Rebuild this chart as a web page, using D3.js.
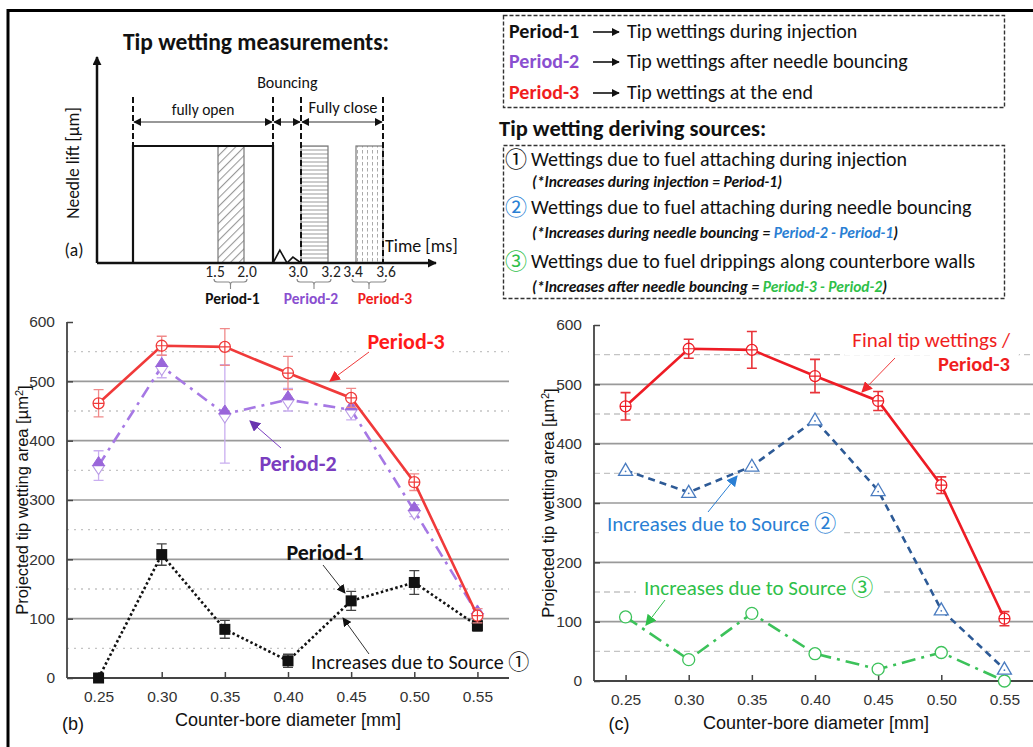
<!DOCTYPE html>
<html>
<head>
<meta charset="utf-8">
<script src="https://cdn.jsdelivr.net/npm/d3@7"></script>
<style>
  body { margin: 0; background: #fff; }
  svg { display: block; }
</style>
</head>
<body>
<svg id="fig" width="1033" height="747"></svg>
<script>
// ---------------- data ----------------
const diameters = [0.25, 0.30, 0.35, 0.40, 0.45, 0.50, 0.55];
const diameterLabels = ["0.25", "0.30", "0.35", "0.40", "0.45", "0.50", "0.55"];
const areaTicks = [0, 100, 200, 300, 400, 500, 600];
const areaMajorGrid = [100, 200, 300, 400, 500];
const areaMinorGrid = [50, 150, 250, 350, 450, 550];

// projected tip wetting area [µm²] per counter-bore diameter
const period1 = [0, 208, 82, 29, 130, 161, 88];
const period1Err = [3, 18, 15, 11, 16, 20, 9];
const period2 = [358, 525, 445, 469, 452, 282, 108];
const period2Err = [25, 19, 83, 19, 17, 10, 9];
const period3 = [463, 560, 558, 514, 472, 330, 105];
const period3Err = [23, 16, 31, 28, 16, 14, 12];
const source2 = [355, 318, 362, 440, 321, 120, 20];
const source3 = [108, 36, 114, 46, 20, 48, 0];

// schematic of needle lift (panel a)
const timeTicks = [1.5, 2.0, 3.0, 3.2, 3.4, 3.6];
const timeTickLabels = ["1.5", "2.0", "3.0", "3.2", "3.4", "3.6"];
const periodNames = ["Period-1", "Period-2", "Period-3"];
const periodStart = [1.5, 3.0, 3.4];
const periodEnd = [2.0, 3.2, 3.6];
const liftTime = [0.3, 0.3, 2.55, 2.55];
const liftValue = [0, 1, 1, 0];
const bounceTime = [2.55, 2.66, 2.775, 2.87, 3.0];
const bounceValue = [0, 0.11, 0, 0.05, 0];
const phaseEdges = [0.3, 2.55, 3.0, 3.6];
const phaseNames = ["fully open", "", "Fully close"];

// ---------------- setup ----------------
const CAL = "Carlito, Calibri, Lato, 'Noto Sans CJK JP', sans-serif";
const ARIAL = "'Liberation Sans', Arial, sans-serif";
const CIRC = "'Noto Sans CJK JP', 'DejaVu Sans', sans-serif";
const RED = "#f0282d", BLUE = "#2a7fd4", GREEN = "#2fbf4a", NAVY = "#2d5a96";

const svg = d3.select("#fig");
const defs = svg.append("defs");

function arrowHead(id, color, size) {
  defs.append("marker")
    .attr("id", id).attr("viewBox", "0 0 10 10")
    .attr("refX", 9).attr("refY", 5)
    .attr("markerWidth", size).attr("markerHeight", size)
    .attr("markerUnits", "userSpaceOnUse")
    .attr("orient", "auto-start-reverse")
    .append("path").attr("d", "M0,0 L10,5 L0,10 z").attr("fill", color);
}
arrowHead("ah-black", "#111", 9);
arrowHead("ah-black-s", "#111", 8);
arrowHead("ah-red", RED, 11);
arrowHead("ah-purple", "#6a35b0", 11);
arrowHead("ah-blue", BLUE, 11);
arrowHead("ah-green", GREEN, 11);

// hatch patterns for the schematic
const pDiag = defs.append("pattern").attr("id", "hatch-diag")
  .attr("patternUnits", "userSpaceOnUse").attr("width", 6).attr("height", 6)
  .attr("patternTransform", "rotate(45)");
pDiag.append("rect").attr("width", 6).attr("height", 6).attr("fill", "#fff");
pDiag.append("line").attr("x1", 0).attr("y1", 0).attr("x2", 0).attr("y2", 6)
  .attr("stroke", "#9a9a9a").attr("stroke-width", 2.2);
const pHor = defs.append("pattern").attr("id", "hatch-hor")
  .attr("patternUnits", "userSpaceOnUse").attr("width", 6).attr("height", 4);
pHor.append("rect").attr("width", 6).attr("height", 4).attr("fill", "#fff");
pHor.append("line").attr("x1", 0).attr("y1", 2).attr("x2", 6).attr("y2", 2)
  .attr("stroke", "#9a9a9a").attr("stroke-width", 1);
const pVer = defs.append("pattern").attr("id", "hatch-ver")
  .attr("patternUnits", "userSpaceOnUse").attr("width", 5).attr("height", 6);
pVer.append("rect").attr("width", 5).attr("height", 6).attr("fill", "#fff");
pVer.append("line").attr("x1", 2.5).attr("y1", 0).attr("x2", 2.5).attr("y2", 3.5)
  .attr("stroke", "#aaa").attr("stroke-width", 1);

// outer frame
svg.append("path").attr("d", "M8,747 V10.5 H1033")
  .attr("fill", "none").attr("stroke", "#000").attr("stroke-width", 3);

function txt(g, x, y, s, o) {
  o = o || {};
  return g.append("text").attr("x", x).attr("y", y)
    .attr("dy", "0.35em")
    .attr("font-family", o.font || CAL)
    .attr("font-size", o.size || 16)
    .attr("font-weight", o.bold ? "bold" : "normal")
    .attr("font-style", o.italic ? "italic" : "normal")
    .attr("fill", o.color || "#111")
    .attr("text-anchor", o.anchor || "start")
    .text(s);
}

// ---------------- panel (a): schematic ----------------
const ga = svg.append("g");
const tx = d3.scaleLinear()
  .domain([0, 0.3, 1.5, 2.0, 2.55, 3.0, 3.2, 3.4, 3.6, 4.45])
  .range([97, 133, 218, 244, 273, 301, 328, 356, 383, 436]);
const ly = d3.scaleLinear().domain([0, 1]).range([263, 146]);

txt(ga, 256, 42, "Tip wetting measurements:", { size: 23.5, bold: true, anchor: "middle" });

// hatched measurement windows
const patterns = ["url(#hatch-diag)", "url(#hatch-hor)", "url(#hatch-ver)"];
ga.selectAll("rect.win").data(periodNames).join("rect")
  .attr("x", (d, i) => tx(periodStart[i]))
  .attr("y", ly(1))
  .attr("width", (d, i) => tx(periodEnd[i]) - tx(periodStart[i]))
  .attr("height", ly(0) - ly(1))
  .attr("fill", (d, i) => patterns[i])
  .attr("stroke", "#777").attr("stroke-width", 1.2);

// phase boundaries
ga.selectAll("line.edge").data(phaseEdges).join("line")
  .attr("x1", d => tx(d)).attr("x2", d => tx(d))
  .attr("y1", 97).attr("y2", ly(0))
  .attr("stroke", "#111").attr("stroke-width", 2).attr("stroke-dasharray", "6,3");

// needle lift trace
const liftLine = d3.line().x(d => tx(d[0])).y(d => ly(d[1]));
ga.append("path").datum(liftTime.map((t, i) => [t, liftValue[i]]))
  .attr("d", liftLine).attr("fill", "none").attr("stroke", "#111").attr("stroke-width", 2.2);
ga.append("path").datum(bounceTime.map((t, i) => [t, bounceValue[i]]))
  .attr("d", liftLine).attr("fill", "none").attr("stroke", "#111").attr("stroke-width", 1.6);

// axes with arrows
ga.append("line").attr("x1", tx(0)).attr("y1", ly(0)).attr("x2", tx(0)).attr("y2", 57)
  .attr("stroke", "#111").attr("stroke-width", 2.5).attr("marker-end", "url(#ah-black)");
ga.append("line").attr("x1", tx(0)).attr("y1", ly(0)).attr("x2", tx(4.45)).attr("y2", ly(0))
  .attr("stroke", "#111").attr("stroke-width", 2.5).attr("marker-end", "url(#ah-black)");

// phase arrows and names
for (let i = 0; i < phaseEdges.length - 1; i++) {
  ga.append("line")
    .attr("x1", tx(phaseEdges[i]) + 1).attr("x2", tx(phaseEdges[i + 1]) - 1)
    .attr("y1", 122).attr("y2", 122)
    .attr("stroke", "#333").attr("stroke-width", 1.2)
    .attr("marker-start", "url(#ah-black-s)").attr("marker-end", "url(#ah-black-s)");
}
txt(ga, (tx(phaseEdges[0]) + tx(phaseEdges[1])) / 2, 110, phaseNames[0], { size: 15.5, anchor: "middle" });
txt(ga, (tx(phaseEdges[2]) + tx(phaseEdges[3])) / 2 + 1, 107, phaseNames[2], { size: 16.5, anchor: "middle" });
txt(ga, tx(2.78), 82, "Bouncing", { size: 16, anchor: "middle" });

txt(ga, 0, 0, "Needle lift [µm]", { size: 17.5, anchor: "middle" })
  .attr("transform", "translate(73,163) rotate(-90)");
txt(ga, 74, 250, "(a)", { size: 17.5, anchor: "middle" });
txt(ga, 385, 246, "Time [ms]", { size: 18 });

// time tick labels
ga.selectAll("text.tt").data(timeTickLabels).join("text")
  .attr("x", (d, i) => tx(timeTicks[i]) + (i % 2 === 0 ? -3 : 3))
  .attr("y", 272).attr("dy", "0.35em")
  .attr("font-family", CAL).attr("font-size", 15.5).attr("fill", "#222")
  .attr("text-anchor", "middle").text(d => d);

// braces under each measurement window
const periodColors = ["#111", "#8a4fd0", "#f01e1e"];
const periodLabelShift = [2, -3, 16];
periodNames.forEach((name, i) => {
  const x0 = tx(periodStart[i]) - 4, x1 = tx(periodEnd[i]) + 3, xm = (x0 + x1) / 2;
  ga.append("path")
    .attr("d", `M${x0},279 q0,3 3,3 H${xm - 2} q2,0 2,3 q0,-3 2,-3 H${x1 - 3} q3,0 3,-3 M${xm},285 v4`)
    .attr("fill", "none").attr("stroke", "#888").attr("stroke-width", 1.1);
  txt(ga, xm + periodLabelShift[i], 299, name, { size: 15.5, bold: true, color: periodColors[i], anchor: "middle" });
});

// ---------------- definitions boxes (right top) ----------------
const gd = svg.append("g");
gd.append("rect").attr("x", 503.5).attr("y", 15.5).attr("width", 501).attr("height", 92)
  .attr("fill", "none").attr("stroke", "#333").attr("stroke-width", 1.4).attr("stroke-dasharray", "4,2");
const defsRows = [
  { name: "Period-1", color: "#111", desc: "Tip wettings during injection", y: 31 },
  { name: "Period-2", color: "#8a4fd0", desc: "Tip wettings after needle bouncing", y: 61 },
  { name: "Period-3", color: "#f01e1e", desc: "Tip wettings at the end", y: 92 }
];
defsRows.forEach(r => {
  txt(gd, 509, r.y, r.name, { size: 20, bold: true, color: r.color });
  gd.append("line").attr("x1", 593).attr("x2", 619).attr("y1", r.y + 1).attr("y2", r.y + 1)
    .attr("stroke", "#111").attr("stroke-width", 1.6).attr("marker-end", "url(#ah-black-s)");
  txt(gd, 627, r.y, r.desc, { size: 20 });
});

txt(gd, 499, 128, "Tip wetting deriving sources:", { size: 22.5, bold: true });
gd.append("rect").attr("x", 503.5).attr("y", 145.5).attr("width", 501).attr("height", 153)
  .attr("fill", "none").attr("stroke", "#333").attr("stroke-width", 1.4).attr("stroke-dasharray", "4,2");

const sources = [
  { mark: "①", mcol: "#111", text: "Wettings due to fuel attaching during injection", y: 159,
    note: ["(*Increases during injection = ", "Period-1", ")"], ncol: "#111", ny: 182 },
  { mark: "②", mcol: BLUE, text: "Wettings due to fuel attaching during needle bouncing", y: 207,
    note: ["(*Increases during needle bouncing = ", "Period-2 - Period-1", ")"], ncol: BLUE, ny: 233 },
  { mark: "③", mcol: GREEN, text: "Wettings due to fuel drippings along counterbore walls", y: 261,
    note: ["(*Increases after needle bouncing = ", "Period-3 - Period-2", ")"], ncol: GREEN, ny: 287 }
];
sources.forEach(s => {
  txt(gd, 505, s.y, s.mark, { size: 22, color: s.mcol, font: CIRC });
  txt(gd, 531, s.y, s.text, { size: 20 });
  const t = txt(gd, 532, s.ny, "", { size: 15.5, bold: true, italic: true });
  t.append("tspan").text(s.note[0]);
  t.append("tspan").attr("fill", s.ncol).text(s.note[1]);
  t.append("tspan").text(s.note[2]);
});

// ---------------- panels (b) and (c) ----------------
function panel(left, right, top, bottom, minorDash) {
  const g = svg.append("g");
  const x = d3.scaleLinear().domain([0.225, 0.575]).range([left, right]);
  const y = d3.scaleLinear().domain([0, 600]).range([bottom, top]);
  const layers = {
    minor: g.append("g"), knock: g.append("g"), major: g.append("g"),
    axes: g.append("g"), data: g.append("g"), labels: g.append("g")
  };
  layers.minor.selectAll("line").data(areaMinorGrid).join("line")
    .attr("x1", left).attr("x2", right).attr("y1", d => y(d)).attr("y2", d => y(d))
    .attr("stroke", "#c4c4c4").attr("stroke-width", 1.3).attr("stroke-dasharray", minorDash);
  layers.major.selectAll("line").data(areaMajorGrid).join("line")
    .attr("x1", left).attr("x2", right).attr("y1", d => y(d)).attr("y2", d => y(d))
    .attr("stroke", "#9a9a9a").attr("stroke-width", 1.6);

  // axes
  const yAxis = d3.axisLeft(y).tickValues(areaTicks).tickSize(-6).tickPadding(12).tickFormat(d3.format("d"));
  const ya = layers.axes.append("g").attr("transform", `translate(${left},0)`).call(yAxis);
  const xAxis = d3.axisBottom(x).tickValues(diameters).tickSize(-6).tickPadding(13)
    .tickFormat((d, i) => diameterLabels[i]);
  const xa = layers.axes.append("g").attr("transform", `translate(0,${bottom})`).call(xAxis);
  [ya, xa].forEach(a => {
    a.select(".domain").attr("stroke", "#444").attr("stroke-width", 1.8);
    a.selectAll(".tick line").attr("stroke", "#444").attr("stroke-width", 1.5);
    a.selectAll(".tick text").attr("font-family", ARIAL).attr("font-size", 15.5).attr("fill", "#333");
  });
  xa.select(".domain").attr("d", `M${left},0H${right}`);
  ya.select(".domain").attr("d", `M0,${y(600)}V${y(0)}`);

  return { g, x, y, layers, left, right, top, bottom };
}

function series(p, vals, o) {
  const pts = vals.map((v, i) => [p.x(diameters[i]), p.y(v)]);
  const L = p.layers.data.append("g");
  if (o.err) {
    vals.forEach((v, i) => {
      const cx = p.x(diameters[i]), y0 = p.y(v - o.err[i]), y1 = p.y(v + o.err[i]);
      L.append("path").attr("d", `M${cx},${y0}V${y1}M${cx - 5},${y0}H${cx + 5}M${cx - 5},${y1}H${cx + 5}`)
        .attr("fill", "none").attr("stroke", o.errColor).attr("stroke-width", o.errWidth || 1.3);
    });
  }
  L.append("path").datum(pts).attr("d", d3.line())
    .attr("fill", "none").attr("stroke", o.color).attr("stroke-width", o.width || 2.5)
    .attr("stroke-dasharray", o.dash || null).attr("stroke-linecap", o.cap || "butt");
  pts.forEach(([cx, cy]) => o.marker(L, cx, cy));
}

const mCrossCircle = col => (L, cx, cy) => {
  L.append("circle").attr("cx", cx).attr("cy", cy).attr("r", 5.5)
    .attr("fill", "#fff").attr("stroke", col).attr("stroke-width", 1.3);
  L.append("path").attr("d", `M${cx - 5.5},${cy}H${cx + 5.5}M${cx},${cy - 5.5}V${cy + 5.5}`)
    .attr("stroke", col).attr("stroke-width", 1.2);
};
const mHalfDiamond = (L, cx, cy) => {
  L.append("path").attr("d", `M${cx - 6},${cy}L${cx},${cy + 9}L${cx + 6},${cy}Z`)
    .attr("fill", "#fff").attr("stroke", "#b99be6").attr("stroke-width", 1.1);
  L.append("path").attr("d", `M${cx - 6},${cy}L${cx},${cy - 9}L${cx + 6},${cy}Z`)
    .attr("fill", "#9a66da").attr("stroke", "#9a66da").attr("stroke-width", 1);
};
const mSquare = (L, cx, cy) => {
  L.append("rect").attr("x", cx - 5.5).attr("y", cy - 5.5).attr("width", 11).attr("height", 11)
    .attr("fill", "#111");
};
const mTriangle = (L, cx, cy) => {
  L.append("path").attr("d", `M${cx - 7},${cy + 5}L${cx},${cy - 7}L${cx + 7},${cy + 5}Z`)
    .attr("fill", "#fff").attr("stroke", "#4a7cc0").attr("stroke-width", 1.3);
  L.append("circle").attr("cx", cx).attr("cy", cy + 1).attr("r", 0.9).attr("fill", "#4a7cc0");
};
const mCircle = (L, cx, cy) => {
  L.append("circle").attr("cx", cx).attr("cy", cy).attr("r", 6)
    .attr("fill", "#fff").attr("stroke", "#3cc25a").attr("stroke-width", 1.3);
};

// label with white knock-out of the minor grid behind it
function label(p, x, y, parts, o) {
  const t = txt(p.layers.labels, x, y, "", o);
  parts.forEach(pt => {
    const s = t.append("tspan").text(pt.t);
    if (pt.font) s.attr("font-family", pt.font);
    if (pt.size) s.attr("font-size", pt.size);
  });
  const b = t.node().getBBox();
  p.layers.knock.append("rect").attr("x", b.x - 8).attr("y", b.y - 2)
    .attr("width", b.width + 16).attr("height", b.height + 4).attr("fill", "#fff");
  return t;
}
function pointer(p, x1, y1, x2, y2, col, mk) {
  p.layers.labels.append("line").attr("x1", x1).attr("y1", y1).attr("x2", x2).attr("y2", y2)
    .attr("stroke", col).attr("stroke-width", 1).attr("marker-end", `url(#${mk})`);
}

function yTitle(p, cx, cy) {
  txt(p.layers.labels, 0, 0, "", { size: 16.5, font: ARIAL, anchor: "middle" })
    .attr("transform", `translate(${cx},${cy}) rotate(-90)`)
    .call(t => {
      t.append("tspan").text("Projected tip wetting area [µm");
      t.append("tspan").attr("dy", "-0.45em").attr("font-size", 11).text("2");
      t.append("tspan").attr("dy", "0.45em").text("]");
    });
}

// ---- panel (b)
const pb = panel(67, 509, 322, 678, "2,5");
series(pb, period2, { color: "#a678e4", width: 2.6, dash: "12,6,3,6", err: period2Err, errColor: "#c9aef0", marker: mHalfDiamond });
series(pb, period1, { color: "#111", width: 2.6, dash: "2.5,2.5", err: period1Err, errColor: "#444", marker: mSquare });
series(pb, period3, { color: "#f03a3a", width: 2.6, err: period3Err, errColor: "#f08a8a", marker: mCrossCircle("#f03a3a") });

label(pb, 406, 341, [{ t: "Period-3" }], { size: 22, bold: true, color: "#ff1a1a", anchor: "middle" });
pointer(pb, 369, 352, 330, 381, "#f03a3a", "ah-red");
label(pb, 298, 463, [{ t: "Period-2" }], { size: 22, bold: true, color: "#7a3dbf", anchor: "middle" });
pointer(pb, 281, 448, 250, 421, "#7a3dbf", "ah-purple");
label(pb, 325, 552, [{ t: "Period-1" }], { size: 22, bold: true, color: "#111", anchor: "middle" });
pointer(pb, 323, 565, 345, 593, "#333", "ah-black");
label(pb, 311, 662, [{ t: "Increases due to Source " }, { t: "①", font: CIRC, size: 21 }], { size: 20, color: "#111" });
pointer(pb, 369, 654, 343, 618, "#333", "ah-black");

yTitle(pb, 22, 500);
txt(pb.layers.labels, 288, 720, "Counter-bore diameter [mm]", { size: 18, font: ARIAL, anchor: "middle" });
txt(pb.layers.labels, 73, 724, "(b)", { size: 18, font: ARIAL, anchor: "middle" });

// ---- panel (c)
const pc = panel(594, 1036, 325, 681, "6,4");
series(pc, source3, { color: "#3cc25a", width: 2.6, dash: "14,6,3,6", marker: mCircle });
series(pc, source2, { color: NAVY, width: 2.6, dash: "7,5", marker: mTriangle });
series(pc, period3, { color: "#ee1c25", width: 2.6, err: period3Err, errColor: "#e8343a", errWidth: 1.6, marker: mCrossCircle("#ee1c25") });

label(pc, 1010, 340, [{ t: "Final tip wettings /" }], { size: 21, color: "#f01e1e", anchor: "end" });
label(pc, 1010, 364, [{ t: "Period-3" }], { size: 20.5, bold: true, color: "#f01e1e", anchor: "end" });
pointer(pc, 895, 358, 862, 392, "#f03a3a", "ah-red");
label(pc, 607, 524, [{ t: "Increases due to Source " }, { t: "②", font: CIRC, size: 22 }], { size: 21, color: BLUE });
pointer(pc, 708, 512, 737, 476, BLUE, "ah-blue");
label(pc, 644, 588, [{ t: "Increases due to Source " }, { t: "③", font: CIRC, size: 22 }], { size: 21, color: GREEN });
pointer(pc, 665, 600, 646, 625, GREEN, "ah-green");

yTitle(pc, 548, 503);
txt(pc.layers.labels, 816, 723, "Counter-bore diameter [mm]", { size: 18, font: ARIAL, anchor: "middle" });
txt(pc.layers.labels, 619, 724, "(c)", { size: 18, font: ARIAL, anchor: "middle" });
</script>
</body>
</html>
